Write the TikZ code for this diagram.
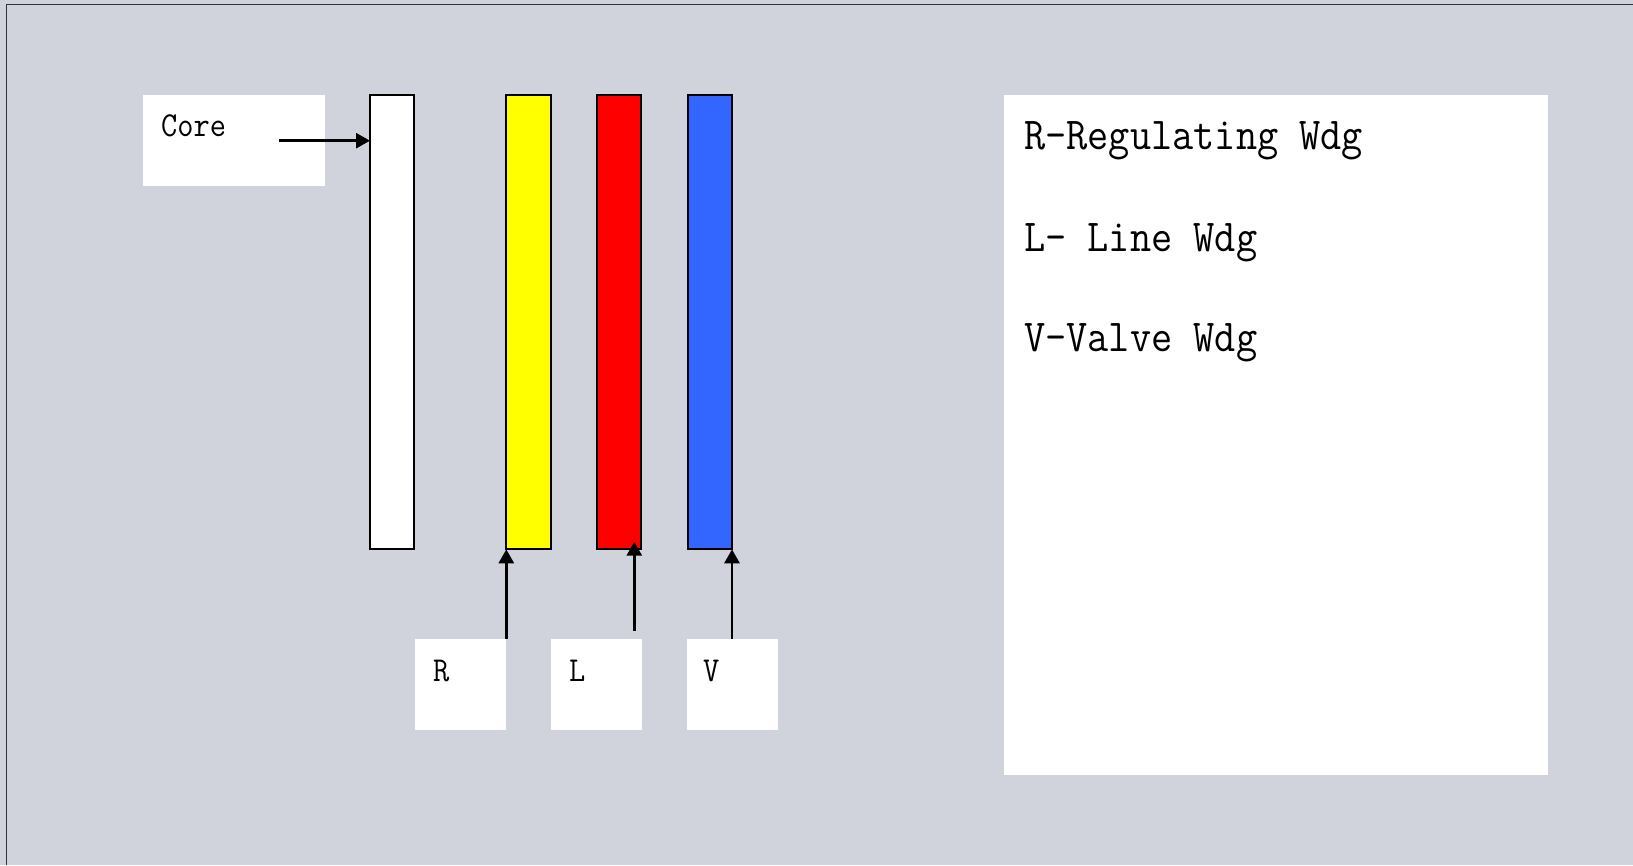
\documentclass[tikz,border=0pt]{standalone}
\usepackage{fontspec}
\usetikzlibrary{arrows.meta}
\newfontfamily\monofnt[FakeStretch=0.9]{Latin Modern Mono}
\definecolor{bgcol}{HTML}{D0D3DB}
\definecolor{wdgyellow}{HTML}{FFFF00}
\definecolor{wdgred}{HTML}{FF0000}
\definecolor{wdgblue}{HTML}{3366FF}
\tikzset{
  bar/.style={draw=black, line width=2pt, inner sep=0pt, outer sep=0pt, minimum width=44.3pt, minimum height=454pt, anchor=north west},
  whitebox/.style={fill=white, draw=none, inner sep=0pt, anchor=north west},
  small/.style={anchor=base west, inner sep=0pt, font=\monofnt\fontsize{35}{40}\selectfont},
  big/.style={anchor=base west, inner sep=0pt, font=\monofnt\fontsize{45.7}{52}\selectfont},
  arr/.style={line width=2.8pt, -{Triangle[width=15pt,length=14pt]}}
}
\begin{document}
\begin{tikzpicture}[x=1pt,y=-1pt]
\useasboundingbox (0,0) rectangle (1633,865);
\fill[bgcol] (0,0) rectangle (1633,865);
\draw[color=black!80, line width=1.3pt] (6.7,865) -- (6.7,4.5) -- (1633,4.5);
% core label box
\node[whitebox, minimum width=182pt, minimum height=91pt] (corebox) at (143,95) {};
\node[small] (coretext) at (161,136.7) {Core};
% bars
\node[bar, fill=white] (cbar) at (370,95.3) {};
\node[bar, fill=wdgyellow] (ybar) at (506.3,95.3) {};
\node[bar, fill=wdgred] (rbar) at (597,95.3) {};
\node[bar, fill=wdgblue] (bbar) at (687.7,95.3) {};
% bottom label boxes
\node[whitebox, minimum width=91pt, minimum height=91pt] (rbox) at (415,639) {};
\node[whitebox, minimum width=91pt, minimum height=91pt] (lbox) at (551,639) {};
\node[whitebox, minimum width=91pt, minimum height=91pt] (vbox) at (686.7,639) {};
\node[small] (rtext) at (433,681) {R};
\node[small] (ltext) at (569,681) {L};
\node[small] (vtext) at (703,681) {V};
% legend
\node[whitebox, minimum width=544pt, minimum height=680pt] (legend) at (1004,95) {};
\node[big] (leg1) at (1024,149.3) {R-Regulating Wdg};
\node[big] (leg2) at (1024,251.7) {L- Line Wdg};
\node[big] (leg3) at (1024,351.7) {V-Valve Wdg};
% arrows
\coordinate (coreA) at (279,140.7);
\draw[arr] (coreA) -- (coreA -| cbar.west);
\draw[arr] (ybar.south west |- rbox.north) -- (ybar.south west);
\coordinate (lA) at (634.3,631);
\coordinate (lB) at (634.3,541.7);
\draw[arr] (lA) -- (lB);
\draw[arr] (bbar.south east |- vbox.north) -- (bbar.south east);
\end{tikzpicture}
\end{document}
